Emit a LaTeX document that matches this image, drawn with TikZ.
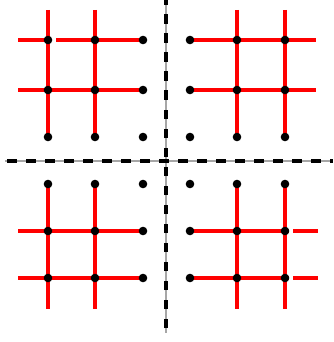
\documentclass[tikz,border=0pt]{standalone}
\usetikzlibrary{backgrounds}
\begin{document}
\begin{tikzpicture}[x=1pt,y=-1pt,
  dotnode/.style={circle,fill=black,inner sep=0pt,minimum size=8.6pt},
  redline/.style={red,line width=3.6pt},
  axisgray/.style={black!35,line width=1.1pt},
  axisdash/.style={black,line width=4pt,dash pattern=on 9.5pt off 9.5pt}]
\useasboundingbox (0,0) rectangle (333,342);
% dots
\foreach \i/\x in {1/48,2/95,3/143,4/190,5/237,6/285}
  \foreach \j/\y in {1/40,2/90,3/137,4/184,5/231,6/278}
    \node[dotnode] (d\i\j) at (\x,\y) {};
% free ends
\coordinate (tv1) at (48,10);  \coordinate (tv2) at (95,10);
\coordinate (tv5) at (237,10); \coordinate (tv6) at (285,10);
\coordinate (bv1) at (48,309); \coordinate (bv2) at (95,309);
\coordinate (bv5) at (237,309); \coordinate (bv6) at (285,309);
\coordinate (lh1) at (18,40);  \coordinate (lh2) at (18,90);
\coordinate (lh5) at (18,231); \coordinate (lh6) at (18,278);
\coordinate (gap1) at (56,40);
\coordinate (rh1) at (316,40); \coordinate (rh2) at (316,90);
\coordinate (ga5) at (289,231); \coordinate (gb5) at (293,231);
\coordinate (ga6) at (289,278); \coordinate (gb6) at (293,278);
\coordinate (rh5) at (318,231); \coordinate (rh6) at (318,278);
% axis ends
\coordinate (vtop) at (166,0);   \coordinate (vbot) at (166,333);
\coordinate (vdbot) at (166,328);
\coordinate (hl) at (5,161);     \coordinate (hr) at (333,161);
\coordinate (hdl) at (7,161);
\begin{scope}[on background layer]
  % top-left
  \draw[redline] (lh1) -- (d11.center);
  \draw[redline] (gap1) -- (d31.center);
  \draw[redline] (lh2) -- (d32.center);
  \draw[redline] (tv1) -- (d13.center);
  \draw[redline] (tv2) -- (d23.center);
  % top-right
  \draw[redline] (d41.center) -- (rh1);
  \draw[redline] (d42.center) -- (rh2);
  \draw[redline] (tv5) -- (d53.center);
  \draw[redline] (tv6) -- (d63.center);
  % bottom-left
  \draw[redline] (lh5) -- (d35.center);
  \draw[redline] (lh6) -- (d36.center);
  \draw[redline] (d14.center) -- (bv1);
  \draw[redline] (d24.center) -- (bv2);
  % bottom-right
  \draw[redline] (d45.center) -- (ga5);
  \draw[redline] (gb5) -- (rh5);
  \draw[redline] (d46.center) -- (ga6);
  \draw[redline] (gb6) -- (rh6);
  \draw[redline] (d54.center) -- (bv5);
  \draw[redline] (d64.center) -- (bv6);
\end{scope}
% axes
\draw[axisgray] (vtop) -- (vbot);
\draw[axisgray] (hl) -- (hr);
\draw[axisdash] (vdbot) -- (vtop);
\draw[axisdash] (hdl) -- (hr);
\end{tikzpicture}
\end{document}
